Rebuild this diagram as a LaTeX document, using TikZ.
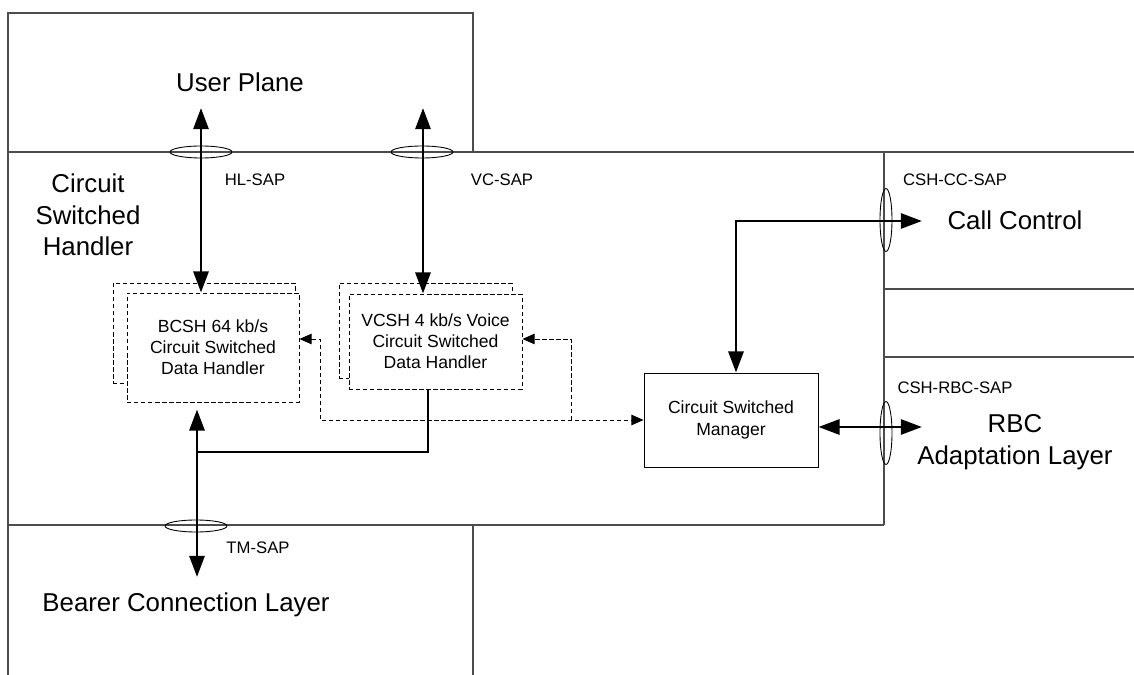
\documentclass[tikz,border=0pt]{standalone}
\usepackage{fontspec}
\setmainfont{Liberation Sans}
\usetikzlibrary{arrows.meta,shapes.geometric}

\begin{document}
\begin{tikzpicture}[
			x = 0.02cm, y = -0.02cm,
			frame/.style = {draw=black!70, line width=0.6pt},
			handler/.style = {draw, dash pattern=on 2.5pt off 1.5pt, fill=white, line width=0.5pt,
				align=center, inner sep=0pt, font=\fontsize{10}{12}\selectfont},
			manager/.style = {draw, fill=white, line width=0.5pt, align=center, inner sep=0pt,
				minimum width=3.48cm, minimum height=1.88cm, font=\fontsize{10}{12}\selectfont},
			sap/.style = {draw, ellipse, line width=0.5pt, inner sep=0pt},
			layer/.style = {align=center, font=\fontsize{14.7}{18}\selectfont},
			saplabel/.style = {font=\fontsize{9.5}{11}\selectfont},
			bus/.style = {line width=1.7pt, {Triangle[length=12pt,width=8.5pt]}-{Triangle[length=12pt,width=8.5pt]}},
			ctl/.style = {line width=0.55pt, dash pattern=on 2.5pt off 1.5pt}
			]

			\useasboundingbox (0,0) rectangle (1134,675);

			% layer borders
			\draw[frame] (8,675) -- (8,13) -- (473,13) -- (473,152);
			\draw[frame] (8,152) -- (1134,152);
			\draw[frame] (8,525) -- (884,525);
			\draw[frame] (884,152) -- (884,525);
			\draw[frame] (473,525) -- (473,675);
			\foreach \y in {289,357}{
				\draw[frame] (884,\y) -- (1134,\y);
			}

			% layer names
			\node[layer] (up) at (240,82) {User Plane};
			\node[layer] (csh) at (88,215) {Circuit\\Switched\\Handler};
			\node[layer] (cc) at (1015,220) {Call Control};
			\node[layer] (rbc) at (1015,442) {RBC\\Adaptation Layer};
			\node[layer] (bcl) at (186,605) {Bearer Connection Layer};

			% handlers, each with a second copy behind it
			\node[handler, minimum width=3.64cm, minimum height=2cm] (bcshb) at (204,333) {};
			\node[handler, minimum width=3.44cm, minimum height=2.18cm] (bcsh) at (213,347.5)
				{BCSH 64 kb/s\\Circuit Switched\\Data Handler};
			\node[handler, minimum width=3.46cm, minimum height=1.9cm] (vcshb) at (425.5,330.5) {};
			\node[handler, minimum width=3.46cm, minimum height=1.9cm] (vcsh) at (435.5,341.5)
				{VCSH 4 kb/s Voice\\Circuit Switched\\Data Handler};
			\node[manager] (csm) at (731,420) {Circuit Switched\\Manager};

			% access points
			\node[sap, minimum width=1.24cm, minimum height=0.24cm] (hlsap) at (201,152) {};
			\node[sap, minimum width=1.24cm, minimum height=0.24cm] (vcsap) at (422,152) {};
			\node[sap, minimum width=1.24cm, minimum height=0.24cm] (tmsap) at (196,526) {};
			\node[sap, minimum width=0.24cm, minimum height=1.26cm] (ccsap) at (886,220) {};
			\node[sap, minimum width=0.24cm, minimum height=1.26cm] (rbcsap) at (886,433) {};

			\node[saplabel] (hllab) at (255,180) {HL-SAP};
			\node[saplabel] (vclab) at (502,180) {VC-SAP};
			\node[saplabel] (tmlab) at (258,548) {TM-SAP};
			\node[saplabel] (cclab) at (955,180) {CSH-CC-SAP};
			\node[saplabel] (rbclab) at (955,388) {CSH-RBC-SAP};

			% free ends of the connectors
			\coordinate (hltop) at (201,108);
			\coordinate (vctop) at (423,108);
			\coordinate (tmbot) at (197,577);
			\coordinate (tmjoin) at (197,452);
			\coordinate (cctip) at (922,221);
			\coordinate (rbctip) at (922,427);
			\coordinate (dl) at (320,420);
			\coordinate (dr) at (571,420);

			\draw[bus] (hltop) -- (hltop |- bcsh.north);
			\draw[bus] (vctop) -- (vctop |- vcsh.north);
			\draw[bus, shorten >=4pt] (tmbot) -- (tmbot |- bcsh.south);
			\draw[line width=1.7pt] ([xshift=-0.15cm]vcsh.south) |- (tmjoin);
			\draw[bus] ([xshift=0.1cm]csm.north) |- (cctip);
			\draw[bus] (csm.east |- rbctip) -- (rbctip);

			\draw[ctl, {Triangle[length=7pt,width=6pt]}-{Triangle[length=7pt,width=6pt]}]
				([yshift=0.17cm]bcsh.east) -| (dl) -- (csm.west);
			\draw[ctl, -{Triangle[length=7pt,width=6pt]}] (dr) |- ([yshift=0.05cm]vcsh.east);

		\end{tikzpicture}
\end{document}
